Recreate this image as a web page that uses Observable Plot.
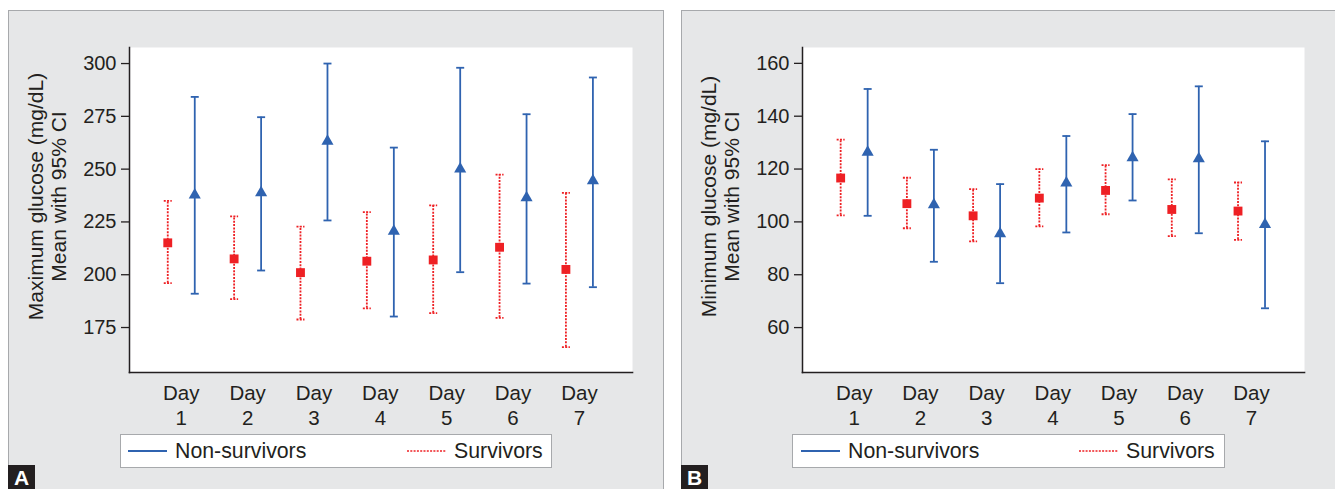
<!DOCTYPE html>
<html>
<head>
<meta charset="utf-8">
<script src="https://cdn.jsdelivr.net/npm/d3@7"></script>
<script src="https://cdn.jsdelivr.net/npm/@observablehq/plot@0.6"></script>
<style>
  html, body { margin: 0; padding: 0; background: #ffffff; }
  body { font-family: "Liberation Sans", Arial, Helvetica, sans-serif; color: #231f20; }
  #root { position: relative; width: 1335px; height: 489px; overflow: hidden; }
  .panel { position: absolute; background: #e6e7e8; border: 1.5px solid #a7a9ac; box-sizing: border-box; }
  .chart { position: absolute; }
  .legend { position: absolute; background: #ffffff; border: 1.5px solid #a7a9ac; box-sizing: border-box; }
  .legend .item { position: absolute; top: 0; height: 100%; display: flex; align-items: center; font-size: 21.3px; }
  .legend svg { margin-right: 8px; }
  .tag { position: absolute; background: #231f20; color: #fff; font-weight: bold; font-size: 21px; width: 27px; height: 26px; line-height: 26px; text-align: center; }
</style>
</head>
<body>
<div id="root">
  <div class="panel" style="left:8px;top:10px;width:656px;height:490px"></div>
  <div class="panel" style="left:681px;top:10px;width:656px;height:490px"></div>
  <div class="chart" id="chartA" style="left:8px;top:10px"></div>
  <div class="chart" id="chartB" style="left:681px;top:10px"></div>
  <div class="legend" style="left:120px;top:434px;width:432px;height:34px">
    <div class="item" style="left:7px"><svg width="39" height="4"><line x1="0" x2="39" y1="2" y2="2" stroke="#2f63b0" stroke-width="2"/></svg>Non-survivors</div>
    <div class="item" style="left:286px"><svg width="39" height="4"><line x1="0" x2="39" y1="2" y2="2" stroke="#ee2024" stroke-width="1.6" stroke-dasharray="2,1.3"/></svg>Survivors</div>
  </div>
  <div class="legend" style="left:792px;top:434px;width:433px;height:34px">
    <div class="item" style="left:8px"><svg width="39" height="4"><line x1="0" x2="39" y1="2" y2="2" stroke="#2f63b0" stroke-width="2"/></svg>Non-survivors</div>
    <div class="item" style="left:286px"><svg width="39" height="4"><line x1="0" x2="39" y1="2" y2="2" stroke="#ee2024" stroke-width="1.6" stroke-dasharray="2,1.3"/></svg>Survivors</div>
  </div>
  <div class="tag" style="left:8px;top:465px">A</div>
  <div class="tag" style="left:681px;top:465px">B</div>
</div>
<script>
// ---------- data ----------
const days = [1, 2, 3, 4, 5, 6, 7];
const dayLabels = ["Day\n1", "Day\n2", "Day\n3", "Day\n4", "Day\n5", "Day\n6", "Day\n7"];
const groups = ["Non-survivors", "Survivors"];

// Panel A: maximum glucose (mg/dL), mean with 95% CI
const maxSurvMean = [215.1, 207.5, 201.0, 206.4, 207.0, 213.0, 202.5];
const maxSurvLo   = [196.0, 188.4, 178.8, 184.1, 181.8, 179.6, 165.7];
const maxSurvHi   = [235.0, 227.6, 222.8, 229.6, 232.8, 247.4, 238.8];
const maxNonMean  = [237.8, 238.8, 263.2, 220.6, 250.1, 236.4, 244.5];
const maxNonLo    = [191.0, 202.0, 225.7, 180.2, 201.2, 195.8, 194.1];
const maxNonHi    = [284.2, 274.6, 300.0, 260.2, 298.0, 276.0, 293.4];
const maxTicks    = [175, 200, 225, 250, 275, 300];

// Panel B: minimum glucose (mg/dL), mean with 95% CI
const minSurvMean = [116.6, 106.9, 102.3, 109.0, 111.9, 104.7, 104.1];
const minSurvLo   = [102.5, 97.6, 92.6, 98.3, 102.9, 94.6, 93.2];
const minSurvHi   = [131.1, 116.7, 112.4, 120.0, 121.5, 116.1, 114.9];
const minNonMean  = [126.4, 106.5, 95.5, 114.7, 124.3, 123.9, 99.0];
const minNonLo    = [102.3, 84.9, 76.8, 96.0, 108.1, 95.7, 67.3];
const minNonHi    = [150.3, 127.3, 114.3, 132.5, 140.8, 151.3, 130.5];
const minTicks    = [60, 80, 100, 120, 140, 160];

// ---------- styling ----------
const BLUE = "#2f63b0";
const RED = "#ee2024";
const INK = "#231f20";
const FONT = "'Liberation Sans', Arial, Helvetica, sans-serif";

const capSymbol = {
  draw(ctx, size) {
    const r = Math.sqrt(size / Math.PI);
    ctx.moveTo(-r, 0);
    ctx.lineTo(r, 0);
  }
};

function rows(mean, lo, hi) {
  return days.map((d, i) => ({day: d, mean: mean[i], lo: lo[i], hi: hi[i]}));
}

function makeChart({surv, non, ticks, domain, title, width, marginRight}) {
  const series = [
    {data: non, color: BLUE, dash: null, dx: 13.5, symbol: "triangle", r: 4.5},
    {data: surv, color: RED, dash: "2,1.3", dx: -13.5, symbol: "square", r: 5}
  ];
  const marks = [Plot.frame({fill: "white", stroke: null})];
  for (const s of series) {
    marks.push(Plot.ruleX(s.data, {x: "day", y1: "lo", y2: "hi", dx: s.dx, stroke: s.color, strokeWidth: 1.8, strokeDasharray: s.dash}));
    marks.push(Plot.dot(s.data, {x: "day", y: "hi", dx: s.dx, symbol: capSymbol, r: 4, stroke: s.color, strokeWidth: 1.8, fill: "none", strokeDasharray: s.dash}));
    marks.push(Plot.dot(s.data, {x: "day", y: "lo", dx: s.dx, symbol: capSymbol, r: 4, stroke: s.color, strokeWidth: 1.8, fill: "none", strokeDasharray: s.dash}));
    marks.push(Plot.dot(s.data, {x: "day", y: "mean", dx: s.dx, symbol: s.symbol, r: s.r, fill: s.color, stroke: null}));
  }
  // axis lines (left and bottom sides of the frame)
  marks.push(Plot.frame({anchor: "left", stroke: INK, strokeWidth: 1.5}));
  marks.push(Plot.frame({anchor: "bottom", stroke: INK, strokeWidth: 1.6}));
  marks.push(Plot.axisY({ticks, tickSize: 8, tickPadding: 5, stroke: INK, strokeWidth: 1.3, fill: INK, fontSize: 20, label: null}));
  // x tick labels (two lines each), placed through the x scale
  marks.push(Plot.text(days, {x: d => d, text: d => dayLabels[d - 1], frameAnchor: "bottom", lineAnchor: "top", dy: 10, fontSize: 20.5, lineHeight: 1.22, fill: INK}));
  marks.push(Plot.text([title], {frameAnchor: "left", text: d => d, rotate: -90, dx: -82.5, dy: -13.5, fontSize: 21, lineHeight: 1.1, fill: INK, textAnchor: "middle", lineAnchor: "middle"}));
  return Plot.plot({
    width, height: 420,
    marginLeft: 121, marginRight, marginTop: 37, marginBottom: 58,
    style: {background: "transparent", fontFamily: FONT, fontSize: "20px", color: INK, overflow: "visible"},
    x: {type: "linear", domain: [0.22, 7.8], axis: null},
    y: {domain},
    marks
  });
}

document.getElementById("chartA").append(makeChart({
  surv: rows(maxSurvMean, maxSurvLo, maxSurvHi),
  non: rows(maxNonMean, maxNonLo, maxNonHi),
  ticks: maxTicks, domain: [153.7, 307.6],
  title: "Maximum glucose (mg/dL)\nMean with 95% CI",
  width: 655, marginRight: 31
}));
document.getElementById("chartB").append(makeChart({
  surv: rows(minSurvMean, minSurvLo, minSurvHi),
  non: rows(minNonMean, minNonLo, minNonHi),
  ticks: minTicks, domain: [43, 166],
  title: "Minimum glucose (mg/dL)\nMean with 95% CI",
  width: 653, marginRight: 30
}));
</script>
</body>
</html>
